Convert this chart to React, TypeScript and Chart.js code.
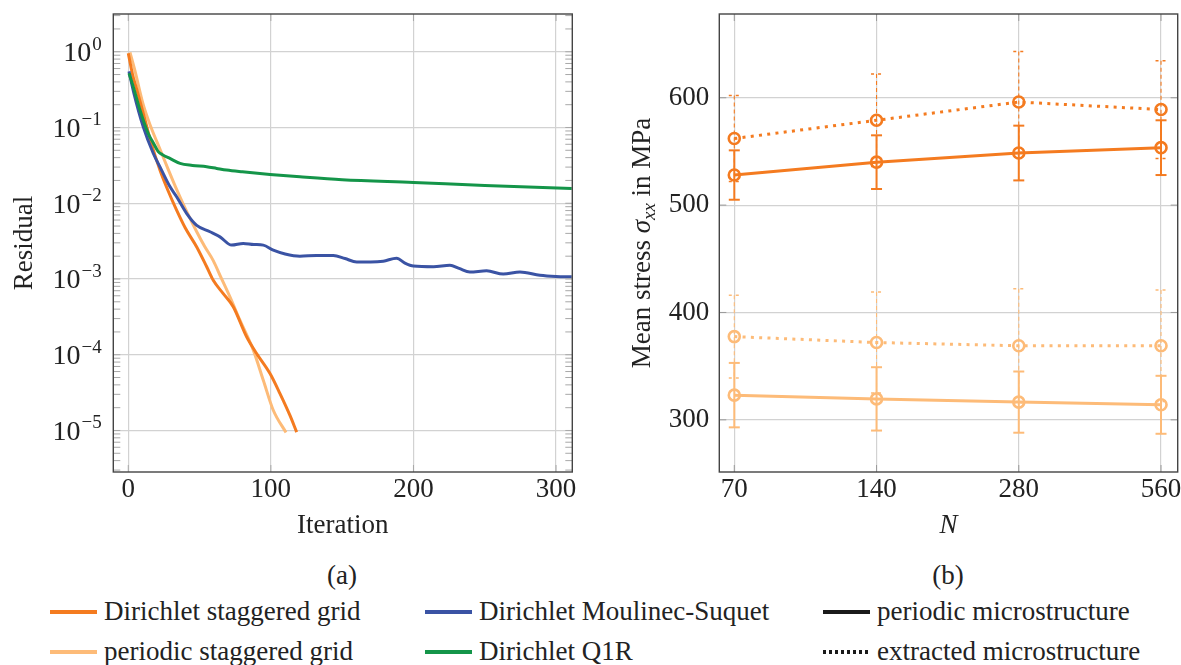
import React, { useEffect, useRef } from "react";
import { Chart, registerables } from "chart.js";
Chart.register(...registerables);

const FONT = "'Liberation Serif', 'Times New Roman', Times, serif";
const FS = 27;
const TXT = "#222222";
const GRID = "#d2d2d2";
const FRAME = "#444444";
const C_DARK = "#f47b20";
const C_LIGHT = "#fdbb78";
const C_BLUE = "#3a53a4";
const C_GREEN = "#149549";

// ---------- Panel (a): residual vs iteration ----------
const dirStagIter = [0, 3, 6, 10.5, 16, 22.2, 28, 33.9, 40, 48, 55, 59.6, 66.6, 73.6, 83, 90, 99.4, 106.4, 113.4, 118.1];
const dirStagRes = [0.955, 0.5, 0.316, 0.155, 0.063, 0.0275, 0.0145, 0.0081, 0.0047, 0.00265, 0.00145, 0.00096, 0.00064, 0.00043, 0.000172, 0.000104, 0.0000565, 0.0000307, 0.0000158, 0.0000095];

const perStagIter = [1.2, 4.7, 10.5, 16, 22.2, 28, 33.9, 40, 48, 53.5, 59.6, 65, 71.3, 78.3, 87.7, 94.7, 101.7, 110.6];
const perStagRes = [0.98, 0.56, 0.2, 0.1, 0.052, 0.028, 0.0152, 0.0085, 0.0042, 0.0027, 0.00175, 0.00105, 0.00058, 0.000286, 0.000115, 0.000046, 0.0000185, 0.0000094];

const dirMSIter = [0.5, 4, 10.5, 17.5, 23, 29.2, 33.9, 41, 48, 57.3, 64.3, 72.5, 80.6, 88, 94.7, 101.7, 110, 120.4, 132, 143.8, 152, 160.2, 170, 178.8, 188.2, 194, 200, 214, 225.6, 232, 239.6, 251.3, 263, 274.7, 288.7, 300, 311];
const dirMSRes = [0.55, 0.28, 0.102, 0.0457, 0.0282, 0.0166, 0.0122, 0.0073, 0.0051, 0.0042, 0.0036, 0.0028, 0.00295, 0.00285, 0.0028, 0.0024, 0.00214, 0.002, 0.00204, 0.00204, 0.00186, 0.00168, 0.00168, 0.00172, 0.00188, 0.00162, 0.00148, 0.00145, 0.00152, 0.00138, 0.00124, 0.00128, 0.00116, 0.00124, 0.00112, 0.00108, 0.00107];

const dirQ1RIter = [0.5, 3.5, 8.2, 14, 17.5, 21, 24, 29.2, 36.3, 45, 55, 62, 69, 80, 99.4, 120.4, 150, 200, 250, 311];
const dirQ1RRes = [0.52, 0.347, 0.17, 0.083, 0.063, 0.048, 0.0437, 0.039, 0.0336, 0.0316, 0.0303, 0.0288, 0.0274, 0.026, 0.024, 0.0223, 0.0204, 0.0188, 0.0172, 0.0157];

const iterTicks = [0, 100, 200, 300];
const resTicks = [1e-5, 1e-4, 1e-3, 1e-2, 1e-1, 1];

// ---------- Panel (b): mean stress vs N ----------
const N = [70, 140, 280, 560];
const dirPerMean = [528, 540, 548.5, 553.5];
const dirPerStd = [23, 25, 25.5, 25.5];
const dirExtMean = [562, 579, 596, 589];
const dirExtStd = [40, 43, 47, 45.5];
const perPerMean = [323, 319.5, 316.5, 314];
const perPerStd = [30, 29.5, 28.5, 27];
const perExtMean = [377.5, 372, 369, 369];
const perExtStd = [38.5, 47, 53, 52];
const stressTicks = [300, 400, 500, 600];

const pts = (xs: number[], ys: number[]) => xs.map((x, i) => ({ x, y: ys[i] }));

function line(ctx: CanvasRenderingContext2D, x1: number, y1: number, x2: number, y2: number) {
  ctx.beginPath();
  ctx.moveTo(x1, y1);
  ctx.lineTo(x2, y2);
  ctx.stroke();
}

const leftDeco = {
  id: "leftDeco",
  afterDraw(chart: any) {
    const { ctx, chartArea: a, scales } = chart;
    const x = scales.x, y = scales.y;
    ctx.save();
    ctx.strokeStyle = "#a8a8a8";
    ctx.lineWidth = 1;
    for (let d = -6; d <= 0; d++) {
      for (let m = 1; m <= 9; m++) {
        const v = m * Math.pow(10, d);
        const py = y.getPixelForValue(v);
        if (py < a.top || py > a.bottom) continue;
        line(ctx, a.left, py, a.left + 7, py);
        line(ctx, a.right - 7, py, a.right, py);
      }
    }
    for (const v of iterTicks) {
      const px = x.getPixelForValue(v);
      line(ctx, px, a.bottom, px, a.bottom - 7);
      line(ctx, px, a.top, px, a.top + 7);
    }
    ctx.strokeStyle = FRAME;
    ctx.lineWidth = 1.4;
    ctx.strokeRect(a.left, a.top, a.right - a.left, a.bottom - a.top);
    // log tick labels 10^k
    ctx.fillStyle = TXT;
    ctx.textBaseline = "alphabetic";
    ctx.textAlign = "left";
    for (const t of y.ticks) {
      const py = y.getPixelForValue(t.value);
      const e = Math.round(Math.log10(t.value));
      const es = e === 0 ? "0" : "\u2212" + Math.abs(e);
      ctx.font = `28px ${FONT}`;
      const wb = ctx.measureText("10").width;
      ctx.font = `19px ${FONT}`;
      const we = ctx.measureText(es).width;
      const right = a.left - 11.5;
      const start = right - wb - we - 1;
      ctx.font = `28px ${FONT}`;
      ctx.fillText("10", start, py + 9.5);
      ctx.font = `19px ${FONT}`;
      ctx.fillText(es, start + wb + 1, py - 2);
    }
    ctx.restore();
  },
};

const errorSets = [
  { mean: perPerMean, std: perPerStd, color: C_LIGHT, dashed: false },
  { mean: perExtMean, std: perExtStd, color: C_LIGHT, dashed: true },
  { mean: dirPerMean, std: dirPerStd, color: C_DARK, dashed: false },
  { mean: dirExtMean, std: dirExtStd, color: C_DARK, dashed: true },
];

const rightDeco = {
  id: "rightDeco",
  afterDatasetsDraw(chart: any) {
    const { ctx, scales } = chart;
    const x = scales.x, y = scales.y;
    ctx.save();
    for (const s of errorSets) {
      ctx.strokeStyle = s.color;
      N.forEach((n, i) => {
        const px = x.getPixelForValue(n);
        const hi = y.getPixelForValue(s.mean[i] + s.std[i]);
        const lo = y.getPixelForValue(s.mean[i] - s.std[i]);
        if (s.dashed) {
          ctx.lineWidth = 1.1;
          ctx.setLineDash([4, 3]);
          line(ctx, px, hi, px, lo);
          ctx.lineWidth = 1.5;
          ctx.setLineDash([3, 4]);
          line(ctx, px - 5.5, hi, px + 5.5, hi);
          line(ctx, px - 5.5, lo, px + 5.5, lo);
        } else {
          ctx.setLineDash([]);
          ctx.lineWidth = 2;
          line(ctx, px, hi, px, lo);
          line(ctx, px - 5.5, hi, px + 5.5, hi);
          line(ctx, px - 5.5, lo, px + 5.5, lo);
        }
      });
    }
    ctx.restore();
  },
  afterDraw(chart: any) {
    const { ctx, chartArea: a, scales } = chart;
    const x = scales.x, y = scales.y;
    ctx.save();
    ctx.strokeStyle = "#9a9a9a";
    ctx.lineWidth = 1;
    for (const v of stressTicks) {
      const py = y.getPixelForValue(v);
      line(ctx, a.left, py, a.left + 7, py);
      line(ctx, a.right - 7, py, a.right, py);
    }
    for (const v of N) {
      const px = x.getPixelForValue(v);
      line(ctx, px, a.bottom, px, a.bottom - 7);
      line(ctx, px, a.top, px, a.top + 7);
    }
    ctx.strokeStyle = FRAME;
    ctx.lineWidth = 1.4;
    ctx.strokeRect(a.left, a.top, a.right - a.left, a.bottom - a.top);
    // y title with subscript
    const parts = [
      { t: "Mean stress ", f: `${FS}px ${FONT}`, dy: 0 },
      { t: "\u03c3", f: `italic ${FS}px ${FONT}`, dy: 0 },
      { t: "xx", f: `italic 19px ${FONT}`, dy: 5 },
      { t: " in MPa", f: `${FS}px ${FONT}`, dy: 0 },
    ];
    let total = 0;
    const ws = parts.map((p) => {
      ctx.font = p.f;
      const w = ctx.measureText(p.t).width;
      total += w;
      return w;
    });
    const cy = (a.top + a.bottom) / 2;
    ctx.translate(a.left - 78, cy);
    ctx.rotate(-Math.PI / 2);
    ctx.fillStyle = TXT;
    ctx.textBaseline = "alphabetic";
    ctx.textAlign = "left";
    let cx = -total / 2;
    parts.forEach((p, i) => {
      ctx.font = p.f;
      ctx.fillText(p.t, cx, 9 + p.dy);
      cx += ws[i];
    });
    ctx.restore();
  },
};

const tickFont = { family: FONT, size: FS };

const fixX = (h: number) => (s: any) => {
  s.height = h;
  s.paddingLeft = 0;
  s.paddingRight = 0;
  s.paddingTop = 0;
  s.paddingBottom = 0;
};
const fixY = (w: number) => (s: any) => {
  s.width = w;
  s.paddingLeft = 0;
  s.paddingRight = 0;
  s.paddingTop = 0;
  s.paddingBottom = 0;
};

function LeftChart() {
  const ref = useRef<HTMLCanvasElement>(null);
  useEffect(() => {
    const mk = (xs: number[], ys: number[], color: string) => ({
      data: pts(xs, ys),
      borderColor: color,
      backgroundColor: color,
      borderWidth: 3,
      pointRadius: 0,
      cubicInterpolationMode: "monotone",
      fill: false,
      clip: 0,
    });
    const chart = new Chart(ref.current as HTMLCanvasElement, {
      type: "line",
      data: {
        datasets: [
          mk(dirQ1RIter, dirQ1RRes, C_GREEN),
          mk(dirMSIter, dirMSRes, C_BLUE),
          mk(dirStagIter, dirStagRes, C_DARK),
          mk(perStagIter, perStagRes, C_LIGHT),
        ] as any,
      },
      options: {
        animation: false,
        responsive: false,
        maintainAspectRatio: false,
        layout: { autoPadding: false, padding: { top: 14, right: 27.7, left: 0, bottom: 0 } },
        plugins: { legend: { display: false }, tooltip: { enabled: false } },
        scales: {
          x: {
            type: "linear",
            min: -10.5,
            max: 311.4,
            afterBuildTicks: (s: any) => {
              s.ticks = iterTicks.map((v) => ({ value: v }));
            },
            afterFit: fixX(88),
            grid: { color: GRID, lineWidth: 1.2, drawTicks: false },
            border: { display: false },
            ticks: { font: tickFont, color: TXT, padding: 2, maxRotation: 0, autoSkip: false },
            title: { display: true, text: "Iteration", font: tickFont, color: TXT, padding: { top: 0, bottom: 18 } },
          },
          y: {
            type: "logarithmic",
            min: 2.83e-6,
            max: 3.15,
            afterBuildTicks: (s: any) => {
              s.ticks = resTicks.map((v) => ({ value: v }));
            },
            afterFit: fixY(113.3),
            grid: { color: GRID, lineWidth: 1.2, drawTicks: false },
            border: { display: false },
            ticks: { display: false },
            title: { display: true, text: "Residual", font: tickFont, color: TXT, padding: { top: 8.6, bottom: 0 } },
          },
        },
      } as any,
      plugins: [leftDeco],
    });
    return () => chart.destroy();
  }, []);
  return <canvas ref={ref} width={600} height={560} style={{ position: "absolute", left: 0, top: 0, width: 600, height: 560 }} />;
}

function RightChart() {
  const ref = useRef<HTMLCanvasElement>(null);
  useEffect(() => {
    const mk = (ys: number[], color: string, dotted: boolean) => ({
      data: pts(N, ys),
      borderColor: color,
      backgroundColor: "rgba(0,0,0,0)",
      borderWidth: 3,
      borderDash: dotted ? [3, 5.3] : [],
      borderCapStyle: "butt",
      pointRadius: 5.5,
      pointHoverRadius: 5.5,
      pointBorderWidth: 2.6,
      pointBorderColor: color,
      pointBackgroundColor: "rgba(0,0,0,0)",
      pointStyle: "circle",
      tension: 0,
      fill: false,
      clip: 0,
    });
    const chart = new Chart(ref.current as HTMLCanvasElement, {
      type: "line",
      data: {
        datasets: [
          mk(perPerMean, C_LIGHT, false),
          mk(perExtMean, C_LIGHT, true),
          mk(dirPerMean, C_DARK, false),
          mk(dirExtMean, C_DARK, true),
        ] as any,
      },
      options: {
        animation: false,
        responsive: false,
        maintainAspectRatio: false,
        layout: { autoPadding: false, padding: { top: 14, right: 3.3, left: 0, bottom: 0 } },
        plugins: { legend: { display: false }, tooltip: { enabled: false } },
        scales: {
          x: {
            type: "logarithmic",
            min: 65.07,
            max: 607.4,
            afterBuildTicks: (s: any) => {
              s.ticks = N.map((v) => ({ value: v }));
            },
            afterFit: fixX(88),
            grid: { color: GRID, lineWidth: 1.2, drawTicks: false },
            border: { display: false },
            ticks: { font: tickFont, color: TXT, padding: 2, maxRotation: 0, autoSkip: false, callback: (v: any) => String(v) },
            title: { display: true, text: "N", font: { family: FONT, size: FS, style: "italic" }, color: TXT, padding: { top: 0, bottom: 18 } },
          },
          y: {
            type: "linear",
            min: 251.4,
            max: 678,
            afterBuildTicks: (s: any) => {
              s.ticks = stressTicks.map((v) => ({ value: v }));
            },
            afterFit: fixY(119.3),
            grid: { color: GRID, lineWidth: 1.2, drawTicks: false },
            border: { display: false },
            ticks: { font: tickFont, color: TXT, padding: 10 },
          },
        },
      } as any,
      plugins: [rightDeco],
    });
    return () => chart.destroy();
  }, []);
  return <canvas ref={ref} width={581} height={560} style={{ position: "absolute", left: 600, top: 0, width: 581, height: 560 }} />;
}

const legendItems = [
  { label: "Dirichlet staggered grid", color: C_DARK, dotted: false, col: 0, row: 0 },
  { label: "periodic staggered grid", color: C_LIGHT, dotted: false, col: 0, row: 1 },
  { label: "Dirichlet Moulinec-Suquet", color: C_BLUE, dotted: false, col: 1, row: 0 },
  { label: "Dirichlet Q1R", color: C_GREEN, dotted: false, col: 1, row: 1 },
  { label: "periodic microstructure", color: "#1a1a1a", dotted: false, col: 2, row: 0 },
  { label: "extracted microstructure", color: "#1a1a1a", dotted: true, col: 2, row: 1 },
];
const colX = [50, 425, 823];
const rowY = [612, 652];

const textStyle = { fontFamily: FONT, fontSize: FS, lineHeight: "30px", color: TXT };

export default function App() {
  return (
    <div style={{ position: "absolute", left: 0, top: 0, width: 1181, height: 665, background: "#fff", overflow: "hidden" }}>
      <LeftChart />
      <RightChart />
      {[
        { t: "(a)", x: 342 },
        { t: "(b)", x: 948 },
      ].map((c) => (
        <div key={c.t} style={{ position: "absolute", left: c.x - 50, top: 560, width: 100, textAlign: "center", ...textStyle }}>
          {c.t}
        </div>
      ))}
      {legendItems.map((it) => (
        <React.Fragment key={it.label}>
          <div
            style={{
              position: "absolute",
              left: colX[it.col],
              top: rowY[it.row] - 2,
              width: 47,
              height: 4,
              background: it.dotted
                ? `repeating-linear-gradient(to right, ${it.color} 0px, ${it.color} 3px, transparent 3px, transparent 6px)`
                : it.color,
            }}
          />
          <div
            style={{
              position: "absolute",
              left: colX[it.col] + 54,
              top: rowY[it.row] - 16,
              whiteSpace: "nowrap",
              ...textStyle,
            }}
          >
            {it.label}
          </div>
        </React.Fragment>
      ))}
    </div>
  );
}
